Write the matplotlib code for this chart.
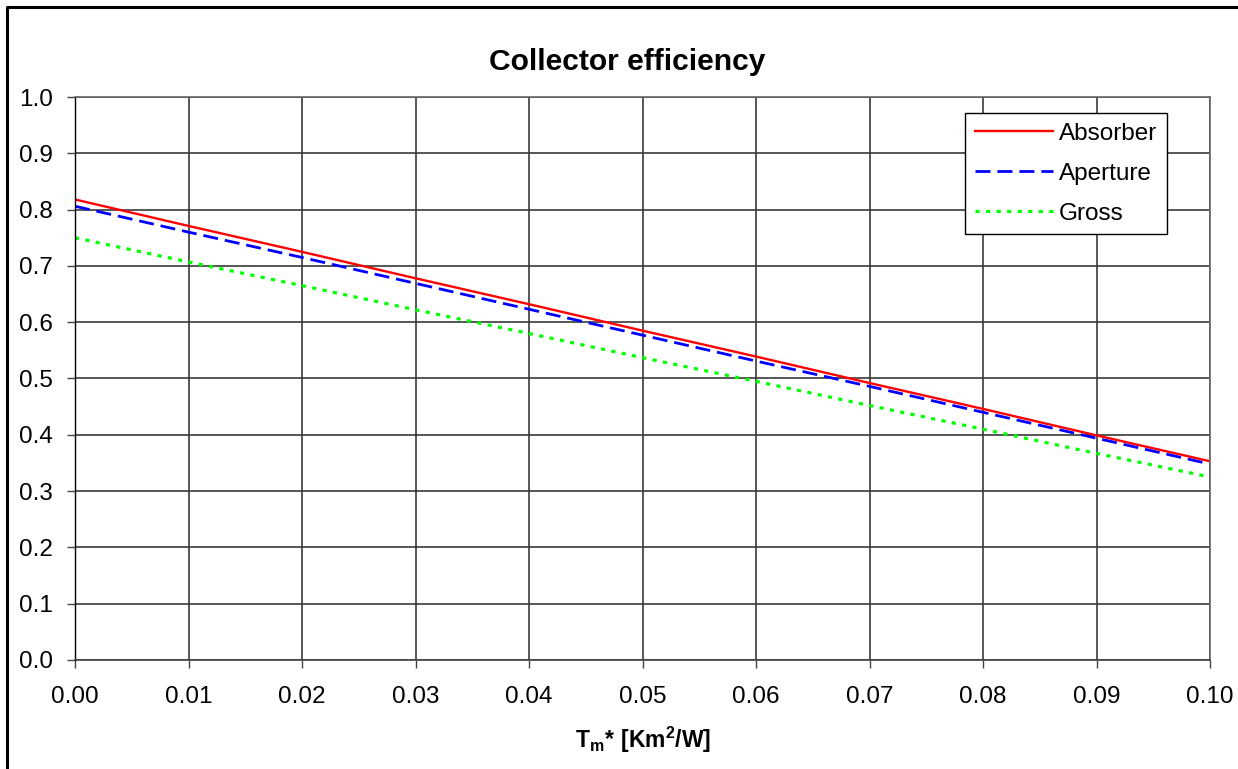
import matplotlib.pyplot as plt
from matplotlib.lines import Line2D
from matplotlib.ticker import FormatStrFormatter, MultipleLocator

# Values at each 0.01 step of Tm*
tm = [0.00, 0.01, 0.02, 0.03, 0.04, 0.05, 0.06, 0.07, 0.08, 0.09, 0.10]
absorber = [0.818, 0.771, 0.725, 0.678, 0.632, 0.585, 0.539, 0.492, 0.446, 0.399, 0.353]
aperture = [0.806, 0.760, 0.715, 0.669, 0.623, 0.577, 0.531, 0.486, 0.440, 0.394, 0.348]
gross = [0.750, 0.707, 0.665, 0.622, 0.580, 0.537, 0.495, 0.452, 0.410, 0.367, 0.325]

plt.rcParams['font.family'] = ['Liberation Sans', 'DejaVu Sans']
plt.rcParams['mathtext.fontset'] = 'custom'
plt.rcParams['mathtext.rm'] = 'Liberation Sans'
plt.rcParams['mathtext.bf'] = 'Liberation Sans:bold'

W, H = 1238, 769
fig = plt.figure(figsize=(W / 100, H / 100), dpi=100)
ax = fig.add_axes([75 / W, 1 - 660 / H, (1210 - 75) / W, (660 - 97) / H])

ax.plot(tm, absorber, color='#ff0000', lw=1.7, label='Absorber')
ax.plot(tm, aperture, color='#0000ff', lw=2.0, dashes=[5.4, 2.5], label='Aperture')
ax.plot(tm, gross, color='#00ff00', lw=2.3, dashes=[1.3, 2.0], label='Gross')

ax.set_xlim(0, 0.1)
ax.set_ylim(0, 1.0)
ax.xaxis.set_major_locator(MultipleLocator(0.01))
ax.yaxis.set_major_locator(MultipleLocator(0.1))
ax.xaxis.set_major_formatter(FormatStrFormatter('%.2f'))
ax.yaxis.set_major_formatter(FormatStrFormatter('%.1f'))
ax.grid(True, color='#3a3a3a', lw=1.2)
ax.set_axisbelow(True)

for side in ['top', 'right']:
    ax.spines[side].set_color('#666666')
    ax.spines[side].set_linewidth(1.2)
ax.spines['left'].set_color('black')
ax.spines['bottom'].set_color('#444444')
ax.spines['left'].set_linewidth(1.0)
ax.spines['bottom'].set_linewidth(1.2)

ax.tick_params(axis='both', direction='out', length=6, width=1, labelsize=17.5, color='#444444')
ax.tick_params(axis='y', pad=10)
ax.tick_params(axis='x', pad=13)

ax.set_xlabel(r'$\mathbf{T_m{*}\ [Km^2/W]}$', fontsize=16.5, labelpad=12)

fig.text(0.5 + 8 / W, 1 - 62 / H, 'Collector efficiency', fontsize=21.6,
         fontweight='bold', ha='center', va='center')

leg = ax.legend(loc='upper left', bbox_to_anchor=(965 / W, 1 - 113 / H),
                bbox_transform=fig.transFigure, borderaxespad=0, fontsize=17.5,
                fancybox=False, framealpha=1, edgecolor='black',
                handlelength=3.2, handletextpad=0.25, labelspacing=0.74,
                borderpad=0.4)
leg.get_frame().set_linewidth(1.0)

# outer chart border (top and left edges visible in the reference)
fig.add_artist(Line2D([7 / W, 7 / W, 1.0], [0.0, 1 - 7 / H, 1 - 7 / H],
                      transform=fig.transFigure, color='black', lw=2.2))

fig.savefig('out.png', dpi=100)
